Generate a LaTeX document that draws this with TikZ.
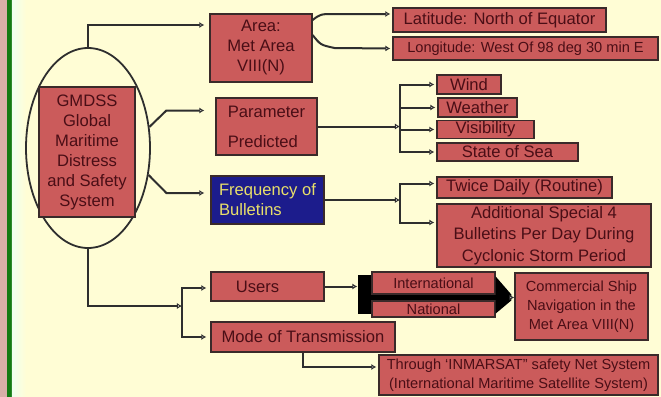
\documentclass[tikz,border=0pt]{standalone}
\usepackage{fontspec}
\setmainfont{Liberation Sans}
\usetikzlibrary{arrows.meta,shapes.geometric}
\definecolor{bgcream}{HTML}{FFFDD5}
\definecolor{boxred}{HTML}{CB5B5B}
\definecolor{boxtext}{HTML}{4A0E16}
\definecolor{boxline}{HTML}{3A2A2A}
\definecolor{wirecol}{HTML}{2E2E2E}
\definecolor{navy}{HTML}{1C1C8C}
\definecolor{gold}{HTML}{E8DF6A}
\definecolor{stripgreen}{HTML}{137A13}
\definecolor{strippink}{HTML}{D8AFA8}
\newcommand{\bigtext}{\fontsize{8.3}{10}\selectfont}
\newcommand{\smalltext}{\fontsize{7.3}{9.6}\selectfont}

\begin{document}
\begin{tikzpicture}[x=0.5pt, y=-0.5pt,
    box/.style={draw=boxline, line width=0.6pt, fill=boxred, text=boxtext, inner sep=0pt, align=center, font=\bigtext},
    wire/.style={draw=wirecol, line width=1pt, -{Latex[length=2.5pt,width=3pt,fill=white]}}]

        % background and left strip
        \fill[bgcream] (0,0) rectangle (661,397);
        \fill[strippink] (0,0) rectangle (7,397);
        \fill[stripgreen] (7,0) rectangle (12,397);
        \shade[left color=green!6!white, right color=bgcream] (12,0) rectangle (26,397);
        \useasboundingbox (0,0) rectangle (661,397);

        \draw (88,148) node[ellipse, draw=wirecol, line width=0.9pt, minimum width=62pt, minimum height=100pt, inner sep=0pt] (ell) {};
        \draw (87,152) node[box, minimum width=48pt, minimum height=65pt] (gm) {GMDSS\\Global\\Maritime\\Distress\\and Safety\\System};

        \draw (261,48) node[box, minimum width=51pt, minimum height=34pt] (area) {Area:\\Met Area\\VIII(N)};
        \draw (499.5,20) node[box, minimum width=106.5pt, minimum height=12pt] (lat) {Latitude: North of Equator};
        \draw (525.5,48.5) node[box, minimum width=132.5pt, minimum height=11.5pt, font=\smalltext] (lon) {Longitude: West Of 98 deg 30 min E};

        \draw (266.5,126.5) node[box, minimum width=50.5pt, minimum height=28.5pt, align=left] (par) {Parameter\\[5pt]Predicted};
        \draw (469,84.5) node[box, minimum width=32pt, minimum height=9.5pt] (wind) {Wind};
        \draw (477.5,107.5) node[box, minimum width=39.5pt, minimum height=9.5pt] (weather) {Weather};
        \draw (485.5,129.5) node[box, minimum width=48.5pt, minimum height=9pt] (visib) {Visibility};
        \draw (507.5,152) node[box, minimum width=70.5pt, minimum height=9pt] (sea) {State of Sea};

        \draw (267.5,200) node[box, fill=navy, text=gold, minimum width=56.5pt, minimum height=24pt, align=left] (freq) {Frequency of\\Bulletins};
        \draw (524.5,187.5) node[box, minimum width=87.5pt, minimum height=10.5pt] (twice) {Twice Daily (Routine)};
        \draw (544,235.5) node[box, minimum width=107pt, minimum height=31.5pt, font=\fontsize{8.3}{10.75}\selectfont] (extra) {Additional Special 4\\Bulletins Per Day During\\Cyclonic Storm Period};

        \draw (267.5,286.5) node[box, minimum width=56.5pt, minimum height=14.5pt] (users) {Users\hspace*{10pt}};
        \draw (303,337) node[box, minimum width=92pt, minimum height=15pt] (mode) {Mode of Transmission};
        \draw (433.5,283) node[box, minimum width=61.5pt, minimum height=11pt, font=\smalltext] (intl) {International};
        \draw (433.5,309) node[box, minimum width=61.5pt, minimum height=8pt, font=\smalltext] (natl) {National};
        \draw (581.5,306.5) node[box, minimum width=66.5pt, minimum height=33.5pt, font=\smalltext] (comm) {Commercial Ship\\Navigation in the\\Met Area VIII(N)};
        \draw (518.5,375) node[box, minimum width=139.5pt, minimum height=20pt, font=\smalltext] (inmarsat) {Through `INMARSAT'' safety Net System\\(International Maritime Satellite System)};

        \coordinate (pjoin) at (400,126.5);
        \coordinate (fjoin) at (400,200);
        \coordinate (ujoin) at (182,306);

        % main branches
        \draw[wire] (ell.north) |- ([xshift=-2.5pt,yshift=11.5pt]area.west);
        \draw[wire] (ell.19) -- ([xshift=-24.5pt,yshift=8pt]par.west) -- ([xshift=-5.5pt,yshift=8pt]par.west);
        \draw[wire] (ell.-24) -- ([xshift=-22pt,yshift=3.5pt]freq.west) -- ([xshift=-3pt,yshift=3.5pt]freq.west);
        \draw[wire] (ell.south) |- (ujoin);

        \draw[wire] ([yshift=14pt]area.east) .. controls +(8,-6) .. +(22,-6) -- ([xshift=-1pt,yshift=3pt]lat.west);
        \draw[wire] ([yshift=6.5pt]area.east) .. controls +(8,10) .. +(22,13) -- ([xshift=-1pt]lon.west);

        \draw[wire] (par.east) -- (pjoin);
        \foreach \leaf in {wind,weather,visib,sea}
            \draw[wire] (pjoin) |- ([xshift=-1pt]\leaf.west);

        \draw[wire] (freq.east) -- (fjoin);
        \draw[wire] (fjoin) |- ([xshift=-1pt,yshift=2pt]twice.west);
        \draw[wire] (fjoin) |- ([xshift=-1pt,yshift=6.5pt]extra.west);

        \draw[wire] (ujoin) |- ([xshift=-2pt,yshift=-0.75pt]users.west);
        \draw[wire] (ujoin) |- ([xshift=-2pt]mode.west);
        \draw[wire] (mode.south) |- ([xshift=-1pt,yshift=4pt]inmarsat.west);

        % users bracket and fat arrow
        \draw[wire] (users.east) -- ([xshift=-7pt]intl.west |- users.east);
        \fill[black] ([xshift=-6.5pt,yshift=-2pt]intl.north west) rectangle ([yshift=2pt]natl.south west);
        \fill[black] (intl.south west) rectangle (natl.north east);
        \fill[black] ([yshift=-2.5pt]intl.north east) -- ([xshift=-1.5pt]comm.west |- intl.south east) -- ([xshift=-1.5pt]comm.west |- natl.north east) -- ([yshift=2pt]natl.south east) -- cycle;
        \draw[wire, line width=0.6pt] ([xshift=-2pt,yshift=4.5pt]comm.west) -- ([yshift=4.5pt]comm.west);
\end{tikzpicture}
\end{document}
